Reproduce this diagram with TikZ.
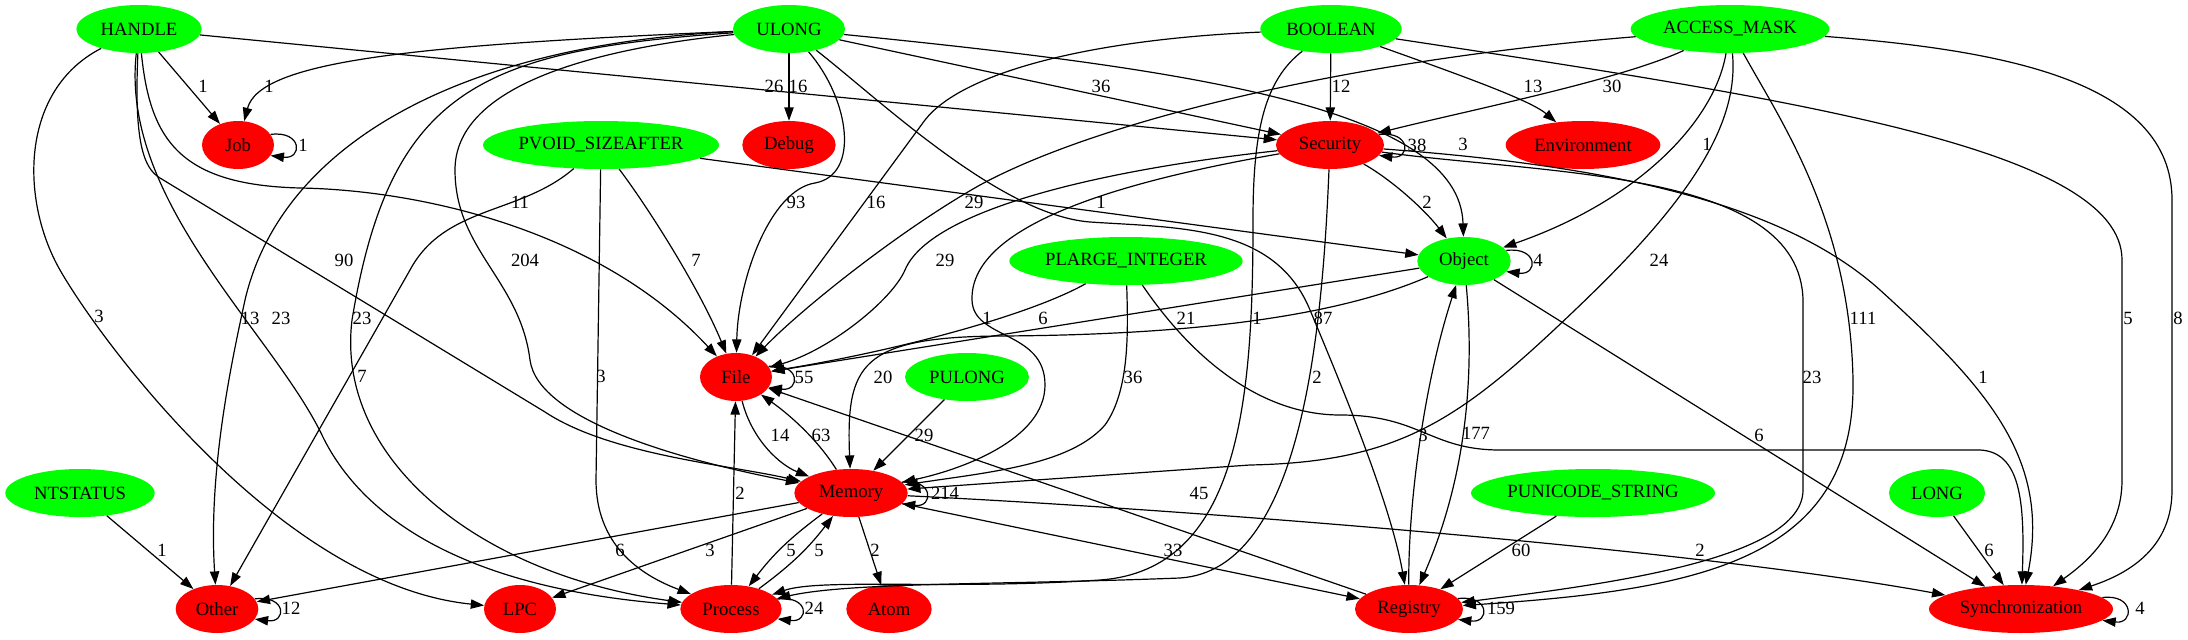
\documentclass[tikz,border=0pt]{standalone}
\usepackage{fontspec}
\setmainfont{Liberation Serif}
\usepackage{xcolor}
\usepackage{tikz}
\usetikzlibrary{shapes.geometric, arrows.meta}

\begin{document}
\begin{tikzpicture}[
    x=0.75pt, y=0.75pt,
    font=\fontsize{14pt}{16pt}\selectfont,
    api/.style={ellipse, fill=green, inner xsep=-3pt, inner ysep=0pt, minimum height=36pt, minimum width=54pt},
    cat/.style={ellipse, fill=red, inner xsep=-3pt, inner ysep=0pt, minimum height=36pt, minimum width=54pt},
    arrow/.style={-{Triangle[length=10pt,width=7pt]}, line width=0.9pt},
    lbl/.style={inner sep=0pt}
]

\fill[white] (0,0) rectangle (2188,-639);
\useasboundingbox (0,0) rectangle (2188,-639);

% Type Layer (top)
\node[api, minimum width=94pt] (handle) at (139,-29) {HANDLE};
\node[api, minimum width=84pt] (ulong) at (789,-29) {ULONG};
\node[api, minimum width=106pt] (boolean) at (1331,-29) {BOOLEAN};
\node[api, minimum width=149pt] (accessmask) at (1730,-29) {ACCESS\_MASK};

% Second row
\node[cat] (job) at (238,-145) {Job};
\node[api, minimum width=177pt] (pvoid) at (601,-145) {PVOID\_SIZEAFTER};
\node[cat, minimum width=70pt] (debug) at (789,-145) {Debug};
\node[cat, minimum width=81pt] (security) at (1330,-145) {Security};
\node[cat, minimum width=116pt] (environment) at (1583,-145) {Environment};

% Third row
\node[api, minimum width=175pt] (plarge) at (1126,-261) {PLARGE\_INTEGER};
\node[api, minimum width=70pt] (object) at (1464,-261) {Object};

% Fourth row
\node[cat] (file) at (736,-377) {File};
\node[api, minimum width=93pt] (pulong) at (967,-377) {PULONG};

% Fifth row
\node[api, minimum width=112pt] (ntstatus) at (80,-493) {NTSTATUS};
\node[cat, minimum width=85pt] (memory) at (851,-493) {Memory};
\node[api, minimum width=183pt] (punicode) at (1593,-493) {PUNICODE\_STRING};
\node[api, minimum width=72pt] (long) at (1937,-493) {LONG};

% Bottom row
\node[cat, minimum width=62pt] (other) at (217,-609) {Other};
\node[cat] (lpc) at (520,-609) {LPC};
\node[cat, minimum width=76pt] (process) at (731,-609) {Process};
\node[cat, minimum width=64pt] (atom) at (889,-609) {Atom};
\node[cat, minimum width=81pt] (registry) at (1409,-609) {Registry};
\node[cat, minimum width=138pt] (sync) at (2021,-609) {Synchronization};

% Arrows from HANDLE
\draw[arrow] (handle) -- (job) node[lbl] at (203,-86) {1};
\draw[arrow] (handle) -- (security) node[lbl] at (774,-86) {26};
\draw[arrow] (handle) .. controls (20,-90) and (20,-200) .. (60,-270) .. controls (100,-340) and (280,-585) .. (lpc) node[lbl] at (99,-316) {3};
\draw[arrow] (handle) .. controls (120,-200) and (270,-330) .. (321,-433) .. controls (350,-495) and (430,-585) .. (process) node[lbl] at (281,-318) {23};
\draw[arrow] (handle) .. controls (134,-140) and (143,-168) .. (160,-178) -- (545,-412) .. controls (610,-455) and (730,-465) .. (memory) node[lbl] at (344,-260) {90};
\draw[arrow] (handle) .. controls (150,-140) and (180,-185) .. (300,-188) .. controls (420,-190) and (600,-230) .. (file) node[lbl] at (520,-202) {11};

% Arrows from ULONG
\draw[arrow] (ulong) .. controls (420,-45) and (260,-60) .. (job) node[lbl] at (269,-86) {1};
\draw[arrow] (ulong) .. controls (450,-45) and (280,-150) .. (245,-300) .. controls (232,-360) and (208,-470) .. (other) node[lbl] at (250,-318) {13};
\draw[arrow] (ulong) .. controls (480,-50) and (390,-90) .. (352,-320) .. controls (335,-460) and (480,-575) .. (process) node[lbl] at (362,-318) {23};
\draw[arrow] (ulong) .. controls (580,-50) and (455,-90) .. (455,-170) .. controls (455,-250) and (520,-280) .. (530,-360) .. controls (538,-420) and (680,-460) .. (memory) node[lbl] at (525,-260) {204};
\draw[arrow] (ulong) -- (debug) node[lbl] at (798,-86) {16};
\draw[arrow] (ulong) .. controls (850,-100) and (860,-175) .. (815,-183) .. controls (770,-190) and (738,-280) .. (file) node[lbl] at (796,-202) {93};
\draw[arrow] (ulong) .. controls (880,-100) and (1000,-215) .. (1090,-222) .. controls (1180,-228) and (1275,-225) .. (1310,-310) .. controls (1335,-370) and (1390,-500) .. (registry) node[lbl] at (1323,-318) {87};
\draw[arrow] (ulong) -- (security) node[lbl] at (1101,-86) {36};
\draw[arrow] (ulong) .. controls (1200,-70) and (1460,-110) .. (object) node[lbl] at (1463,-144) {3};

% Arrows from BOOLEAN
\draw[arrow] (boolean) -- (security) node[lbl] at (1341,-86) {12};
\draw[arrow] (boolean) .. controls (1460,-75) and (1530,-100) .. (environment) node[lbl] at (1533,-86) {13};
\draw[arrow] (boolean) .. controls (1080,-40) and (960,-75) .. (925,-120) -- (file) node[lbl] at (876,-202) {16};
\draw[arrow] (boolean) .. controls (1265,-80) and (1253,-130) .. (1253,-220) .. controls (1253,-400) and (1240,-570) .. (1100,-580) .. controls (950,-590) and (820,-578) .. (process) node[lbl] at (1257,-318) {1};
\draw[arrow] (boolean) .. controls (1800,-100) and (2122,-150) .. (2122,-260) -- (2122,-480) .. controls (2122,-530) and (2090,-560) .. (sync) node[lbl] at (2128,-318) {5};

% Arrows from ACCESS_MASK
\draw[arrow] (accessmask) .. controls (1620,-80) and (1470,-110) .. (security) node[lbl] at (1612,-86) {30};
\draw[arrow] (accessmask) .. controls (1350,-60) and (1100,-120) .. (980,-185) .. controls (900,-230) and (800,-310) .. (file) node[lbl] at (974,-202) {29};
\draw[arrow] (accessmask) .. controls (1715,-120) and (1640,-200) .. (object) node[lbl] at (1707,-144) {1};
\draw[arrow] (accessmask) .. controls (1740,-130) and (1680,-210) .. (1575,-310) .. controls (1460,-420) and (1400,-462) .. (1250,-465) -- (memory) node[lbl] at (1659,-260) {24};
\draw[arrow] (accessmask) .. controls (1780,-120) and (1850,-220) .. (1853,-380) .. controls (1856,-560) and (1700,-590) .. (registry) node[lbl] at (1863,-318) {111};
\draw[arrow] (accessmask) .. controls (2000,-50) and (2172,-80) .. (2172,-200) -- (2172,-490) .. controls (2172,-540) and (2140,-570) .. (sync) node[lbl] at (2178,-318) {8};

% Arrows from PVOID_SIZEAFTER
\draw[arrow] (pvoid) .. controls (520,-215) and (445,-205) .. (410,-270) -- (other) node[lbl] at (362,-376) {7};
\draw[arrow] (pvoid) -- (596,-480) .. controls (596,-545) and (640,-575) .. (process) node[lbl] at (601,-376) {3};
\draw[arrow] (pvoid) .. controls (650,-210) and (700,-290) .. (file) node[lbl] at (696,-260) {7};
\draw[arrow] (pvoid) -- (object) node[lbl] at (1101,-202) {1};

% Arrows from Security
\draw[arrow] (security) .. controls (1392,-180) and (1425,-210) .. (object) node[lbl] at (1427,-202) {2};
\draw[arrow] (security) .. controls (1100,-170) and (930,-210) .. (905,-270) .. controls (892,-300) and (830,-350) .. (file) node[lbl] at (945,-260) {29};
\draw[arrow] (security) .. controls (1100,-185) and (970,-230) .. (972,-300) .. controls (973,-340) and (1045,-330) .. (1045,-385) .. controls (1045,-440) and (960,-470) .. (memory) node[lbl] at (987,-318) {1};
\draw[arrow] (security) .. controls (1322,-340) and (1300,-570) .. (1180,-578) .. controls (1000,-585) and (850,-582) .. (process) node[lbl] at (1317,-377) {2};
\draw[arrow] (security) .. controls (1550,-175) and (1800,-170) .. (1803,-300) -- (1803,-490) .. controls (1803,-560) and (1600,-585) .. (registry) node[lbl] at (1812,-377) {23};
\draw[arrow] (security) .. controls (1600,-165) and (1780,-200) .. (1880,-290) .. controls (1990,-390) and (2050,-460) .. (sync) node[lbl] at (1983,-377) {1};

% Arrows from Object
\draw[arrow] (object) -- (file) node[lbl] at (1186,-318) {21};
\draw[arrow] (object) .. controls (1340,-315) and (1200,-335) .. (1000,-336) .. controls (860,-337) and (846,-365) .. (memory) node[lbl] at (883,-377) {20};
\draw[arrow] (object) .. controls (1475,-380) and (1465,-480) .. (registry) node[lbl] at (1476,-433) {177};
\draw[arrow] (registry) .. controls (1408,-500) and (1425,-380) .. (object) node[lbl] at (1423,-435) {3};
\draw[arrow] (object) -- (sync) node[lbl] at (1759,-435) {6};

% Arrows from PLARGE_INTEGER
\draw[arrow] (plarge) .. controls (1030,-315) and (900,-350) .. (file) node[lbl] at (1043,-318) {6};
\draw[arrow] (plarge) .. controls (1128,-330) and (1130,-390) .. (1105,-425) .. controls (1070,-465) and (990,-472) .. (memory) node[lbl] at (1133,-377) {36};
\draw[arrow] (plarge) .. controls (1200,-370) and (1270,-415) .. (1340,-415) .. controls (1420,-415) and (1430,-450) .. (1500,-450) -- (1980,-450) .. controls (2020,-452) and (2025,-500) .. (sync);

% File, Memory and the rest
\draw[arrow] (registry) -- (file) node[lbl] at (1199,-493) {45};
\draw[arrow] (file) .. controls (752,-440) and (780,-465) .. (memory) node[lbl] at (780,-435) {14};
\draw[arrow] (memory) .. controls (818,-440) and (790,-415) .. (file) node[lbl] at (821,-435) {63};
\draw[arrow] (pulong) -- (memory) node[lbl] at (924,-435) {29};
\draw[arrow] (process) -- (file) node[lbl] at (740,-493) {2};
\draw[arrow] (memory) -- (other) node[lbl] at (620,-550) {6};
\draw[arrow] (memory) -- (lpc) node[lbl] at (710,-550) {3};
\draw[arrow] (memory) to[bend right=8] (process) node[lbl] at (791,-550) {5};
\draw[arrow] (process) to[bend right=8] (memory) node[lbl] at (819,-550) {5};
\draw[arrow] (memory) -- (atom) node[lbl] at (875,-550) {2};
\draw[arrow] (memory) -- (registry) node[lbl] at (1173,-550) {33};
\draw[arrow] (memory) .. controls (1200,-510) and (1700,-550) .. (sync) node[lbl] at (1700,-550) {2};
\draw[arrow] (ntstatus) -- (other) node[lbl] at (162,-550) {1};
\draw[arrow] (punicode) -- (registry) node[lbl] at (1521,-550) {60};
\draw[arrow] (long) -- (sync) node[lbl] at (1989,-550) {6};

% Self loops
\draw[arrow] (job.18) .. controls +(32,4) and +(32,-4) .. (job.-18) node[lbl] at (303,-145) {1};
\draw[arrow] (security.12) .. controls +(32,4) and +(32,-4) .. (security.-12) node[lbl] at (1417,-145) {38};
\draw[arrow] (object.14) .. controls +(32,4) and +(32,-4) .. (object.-14) node[lbl] at (1538,-260) {4};
\draw[arrow] (file.18) .. controls +(32,4) and +(32,-4) .. (file.-18) node[lbl] at (804,-377) {55};
\draw[arrow] (memory.12) .. controls +(32,4) and +(32,-4) .. (memory.-12) node[lbl] at (945,-493) {214};
\draw[arrow] (other.15) .. controls +(32,4) and +(32,-4) .. (other.-15) node[lbl] at (291,-608) {12};
\draw[arrow] (process.12) .. controls +(32,4) and +(32,-4) .. (process.-12) node[lbl] at (814,-608) {24};
\draw[arrow] (registry.12) .. controls +(32,4) and +(32,-4) .. (registry.-12) node[lbl] at (1501,-608) {159};
\draw[arrow] (sync.8) .. controls +(32,4) and +(32,-4) .. (sync.-8) node[lbl] at (2140,-608) {4};

\end{tikzpicture}
\end{document}
